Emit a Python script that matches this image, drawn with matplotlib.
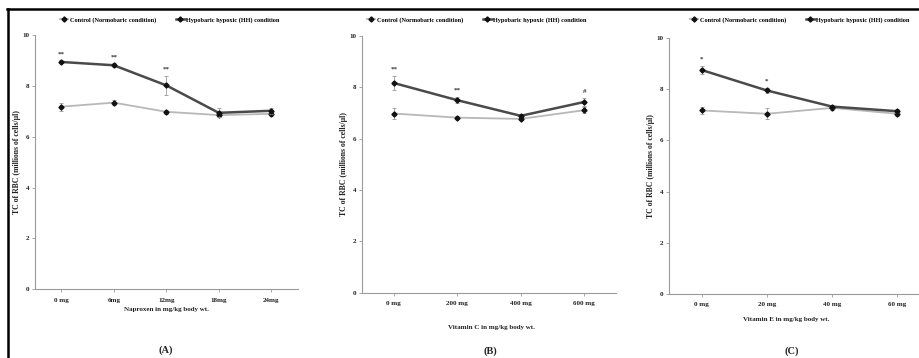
import matplotlib
matplotlib.use("Agg")
import matplotlib.pyplot as plt
from matplotlib.lines import Line2D

# ---------------- data ----------------
cats_a = ["0 mg", "6mg", "12mg", "18mg", "24mg"]
ctrl_a = [7.18, 7.34, 6.98, 6.85, 6.90]
ctrl_a_err = [0.15, 0.10, 0.08, 0.08, 0.10]
hh_a = [8.94, 8.81, 8.02, 6.94, 7.02]
hh_a_err = [0.06, 0.07, 0.37, 0.18, 0.12]
ann_a = ["**", "**", "**", "", ""]

cats_b = ["0 mg", "200 mg", "400 mg", "600 mg"]
ctrl_b = [6.98, 6.82, 6.77, 7.11]
ctrl_b_err = [0.20, 0.07, 0.06, 0.12]
hh_b = [8.17, 7.50, 6.89, 7.43]
hh_b_err = [0.28, 0.12, 0.06, 0.15]
ann_b = ["**", "**", "", "#"]

cats_c = ["0 mg", "20 mg", "40 mg", "60 mg"]
ctrl_c = [7.17, 7.04, 7.27, 7.04]
ctrl_c_err = [0.12, 0.22, 0.08, 0.08]
hh_c = [8.75, 7.95, 7.32, 7.14]
hh_c_err = [0.15, 0.10, 0.08, 0.08]
ann_c = ["*", "*", "", ""]

xlabels = ["Naproxen in mg/kg body wt.", "Vitamin C in mg/kg body wt.", "Vitamin E in mg/kg body wt."]
panel_labels = ["(A)", "(B)", "(C)"]
legend_labels = ["Control (Normobaric condition)", "Hypobaric hypoxic (HH) condition"]
ylabel = "TC of RBC (millions of cells/\u00b5l)"

# ---------------- style ----------------
plt.rcParams["font.family"] = ["Liberation Serif", "DejaVu Serif"]
plt.rcParams["font.weight"] = "bold"
plt.rcParams["axes.labelweight"] = "bold"

W, H = 920, 358
fig = plt.figure(figsize=(W / 100, H / 100), dpi=100)
fig.patch.set_facecolor("white")


def fx(px):
    return px / W


def fy(py):
    return 1 - py / H


# axes pixel boxes: left, right, y(0), y(10)
boxes = [(35, 297.5, 289.3, 35), (362, 616, 292.7, 36), (669, 930, 294, 38)]
xlab_y = [309, 327, 319]
xlab_x = [166, 491, 786]
panel_xy = [(166, 350), (490, 351), (792, 351)]
legend_center = [(170, 20), (477, 20), (800, 20)]

datasets = [
    (cats_a, ctrl_a, ctrl_a_err, hh_a, hh_a_err, ann_a),
    (cats_b, ctrl_b, ctrl_b_err, hh_b, hh_b_err, ann_b),
    (cats_c, ctrl_c, ctrl_c_err, hh_c, hh_c_err, ann_c),
]

ctrl_col = "#b8b8b8"
hh_col = "#4a4a4a"
mk_col = "#111111"

for i, (cats, c, ce, h, he, ann) in enumerate(datasets):
    l, r, y0, y10 = boxes[i]
    ax = fig.add_axes([fx(l), fy(y0), fx(r - l), (y0 - y10) / H])
    x = list(range(len(cats)))
    ax.errorbar(x, c, yerr=ce, color=ctrl_col, lw=1.3, marker="D", ms=2.6,
                mfc=mk_col, mec=mk_col, ecolor="#999999", elinewidth=0.6,
                capsize=1.2, capthick=0.6, zorder=3)
    ax.errorbar(x, h, yerr=he, color=hh_col, lw=1.8, marker="D", ms=2.6,
                mfc=mk_col, mec=mk_col, ecolor="#999999", elinewidth=0.6,
                capsize=1.2, capthick=0.6, zorder=4)
    for xi, hv, hev, a in zip(x, h, he, ann):
        if a:
            ax.annotate(a, (xi, hv + hev), xytext=(0, 3), textcoords="offset points",
                        ha="center", va="bottom", fontsize=5, color="#333333")
    ax.set_xlim(-0.5, len(cats) - 0.5)
    ax.set_ylim(0, 10)
    ax.set_yticks([0, 2, 4, 6, 8, 10])
    ax.set_xticks(x)
    ax.set_xticklabels(cats)
    for s in ["top", "right"]:
        ax.spines[s].set_visible(False)
    for s in ["left", "bottom"]:
        ax.spines[s].set_color("#9a9a9a")
        ax.spines[s].set_linewidth(0.8)
    ax.tick_params(axis="both", labelsize=5, colors="#9a9a9a", labelcolor="#222222",
                   length=2, width=0.6)
    ax.tick_params(axis="x", pad=4)
    ax.tick_params(axis="y", pad=2)
    ax.set_ylabel(ylabel, fontsize=5.6, color="#222222", labelpad=1, fontweight="bold")
    ax.patch.set_alpha(0)
    fig.text(fx(xlab_x[i]), fy(xlab_y[i]), xlabels[i], ha="center", va="center",
             fontsize=5, color="#222222")
    fig.text(fx(panel_xy[i][0]), fy(panel_xy[i][1]), panel_labels[i], ha="center",
             va="center", fontsize=7.5, color="#222222")
    handles = [Line2D([], [], color=ctrl_col, lw=1.3, marker="D", ms=2.6, mfc=mk_col, mec=mk_col),
               Line2D([], [], color=hh_col, lw=1.8, marker="D", ms=2.6, mfc=mk_col, mec=mk_col)]
    lc, lyc = legend_center[i]
    ax.legend(handles, legend_labels, loc="center", ncol=2, frameon=False,
              bbox_to_anchor=(fx(lc), fy(lyc)), bbox_transform=fig.transFigure,
              fontsize=4.5, handlelength=1.3, handletextpad=0.3, columnspacing=3.2,
              borderpad=0)

# black frame lines (top and left)
fig.add_artist(Line2D([fx(8), fx(8)], [0, fy(9)], color="black", lw=1.8))
fig.add_artist(Line2D([fx(7.4), 1], [fy(9), fy(9)], color="black", lw=1.8))

fig.savefig("out.png", dpi=100, facecolor="white")
